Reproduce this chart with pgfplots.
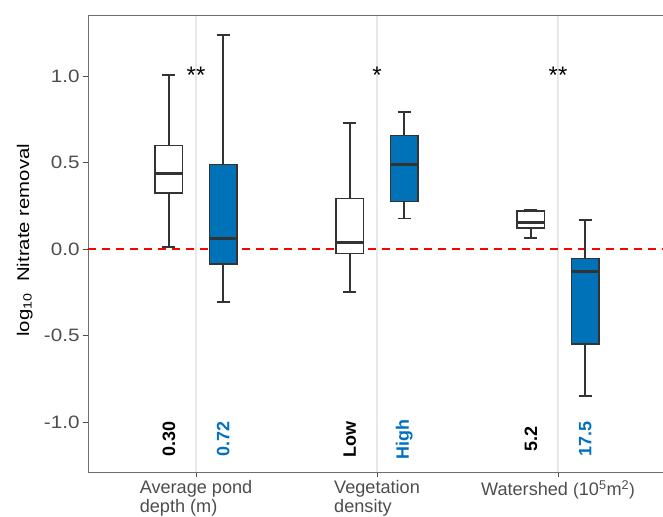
\documentclass[border=0pt]{standalone}
\usepackage{fontspec}
\setmainfont{Liberation Sans}
\usepackage{pgfplots}
\pgfplotsset{compat=1.18}
\usepgfplotslibrary{statistics}
\definecolor{boxblue}{RGB}{0,114,184}
\definecolor{labblue}{RGB}{0,112,192}
\definecolor{axgray}{RGB}{77,77,77}
\definecolor{gridc}{RGB}{232,232,232}
\definecolor{edge}{RGB}{51,51,51}
\definecolor{spine}{RGB}{110,110,110}
\newcommand{\sx}[1]{\scalebox{1.15}[1]{#1}}
\pgfplotsset{
  bx/.style={draw=edge, line width=1.4bp,
    boxplot/every whisker/.style={line width=1.8bp, draw=edge},
    boxplot/every median/.style={line width=3bp, draw=edge},
    boxplot/every box/.style={line width=1.4bp, draw=edge}},
}
\begin{document}
\begin{tikzpicture}
\path[use as bounding box] (0,0) rectangle (663bp,517bp);
\begin{axis}[
  at={(88bp,45bp)}, anchor=south west,
  scale only axis, width=575bp, height=457bp,
  xmin=0.403, xmax=3.58, ymin=-1.289, ymax=1.353,
  axis x line*=bottom, axis y line*=left,
  axis line style={draw=spine, line width=0.9bp, -},
  tick align=outside, major tick length=5bp,
  tick style={draw=axgray, line width=0.9bp},
  xtick={1,2,3},
  xticklabels={{Average pond\\depth (m)},{Vegetation\\density},{\raisebox{-0.6em}{Watershed {\LARGE(}10\textsuperscript{5}m\textsuperscript{2}{\LARGE)}}}},
  ytick={-1,-0.5,0,0.5,1},
  yticklabels={\sx{-1.0},\sx{-0.5},\sx{0.0},\sx{0.5},\sx{1.0}},
  y tick label style={font=\fontsize{18}{18}\selectfont, text=axgray},
  x tick label style={font=\fontsize{18.2}{19}\selectfont, text=axgray, align=left, anchor=north},
  xmajorgrids, grid style={draw=gridc, line width=1.2bp},
  ylabel={\scalebox{1.2}[1]{log\textsubscript{10}\ \ Nitrate removal}},
  every axis y label/.style={at={(axis description cs:-0.110,0.507)}, rotate=90, anchor=center, font=\fontsize{17}{17}\selectfont},
  boxplot/draw direction=y,
]
\addplot[red, dash pattern=on 8bp off 6bp, line width=1.3bp] coordinates {(0.403,0) (3.58,0)};
% group 1
\addplot[bx, fill=white, boxplot prepared={draw position=0.85, lower whisker=0.01, lower quartile=0.324, median=0.437, upper quartile=0.597, upper whisker=1.006, box extend=0.153, whisker extend=0.072}] coordinates {};
\addplot[bx, fill=boxblue, boxplot prepared={draw position=1.15, lower whisker=-0.305, lower quartile=-0.087, median=0.058, upper quartile=0.49, upper whisker=1.239, box extend=0.153, whisker extend=0.072}] coordinates {};
% group 2
\addplot[bx, fill=white, boxplot prepared={draw position=1.85, lower whisker=-0.247, lower quartile=-0.025, median=0.039, upper quartile=0.293, upper whisker=0.727, box extend=0.153, whisker extend=0.072}] coordinates {};
\addplot[bx, fill=boxblue, boxplot prepared={draw position=2.15, lower whisker=0.177, lower quartile=0.276, median=0.486, upper quartile=0.655, upper whisker=0.794, box extend=0.153, whisker extend=0.072}] coordinates {};
% group 3
\addplot[bx, fill=white, boxplot prepared={draw position=2.85, lower whisker=0.062, lower quartile=0.121, median=0.152, upper quartile=0.221, upper whisker=0.229, box extend=0.153, whisker extend=0.072}] coordinates {};
\addplot[bx, fill=boxblue, boxplot prepared={draw position=3.15, lower whisker=-0.85, lower quartile=-0.549, median=-0.131, upper quartile=-0.056, upper whisker=0.17, box extend=0.153, whisker extend=0.072}] coordinates {};
\draw[spine, line width=0.9bp] (rel axis cs:0,1) -- (rel axis cs:1,1);
\node[font=\fontsize{24}{24}\selectfont] at (axis cs:1,1.005) {**};
\node[font=\fontsize{24}{24}\selectfont] at (axis cs:2,1.005) {*};
\node[font=\fontsize{24}{24}\selectfont] at (axis cs:3,1.005) {**};
\node[rotate=90, font=\bfseries\fontsize{18}{18}\selectfont] at (axis cs:0.85,-1.1) {0.30};
\node[rotate=90, font=\bfseries\fontsize{18}{18}\selectfont, text=labblue] at (axis cs:1.15,-1.1) {0.72};
\node[rotate=90, font=\bfseries\fontsize{18}{18}\selectfont] at (axis cs:1.85,-1.1) {Low};
\node[rotate=90, font=\bfseries\fontsize{18}{18}\selectfont, text=labblue] at (axis cs:2.15,-1.1) {High};
\node[rotate=90, font=\bfseries\fontsize{18}{18}\selectfont] at (axis cs:2.85,-1.1) {5.2};
\node[rotate=90, font=\bfseries\fontsize{18}{18}\selectfont, text=labblue] at (axis cs:3.15,-1.1) {17.5};
\end{axis}
\end{tikzpicture}
\end{document}
